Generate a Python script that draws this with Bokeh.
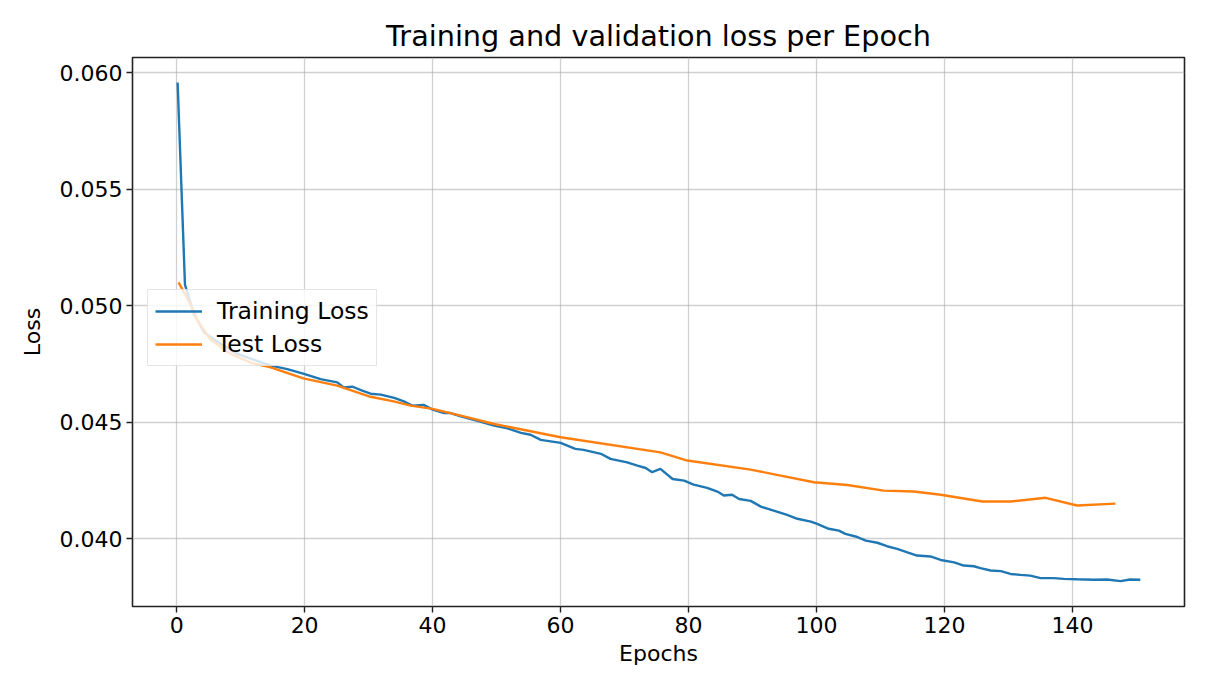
from bokeh.plotting import figure
from bokeh.models import Range1d, FixedTicker, PrintfTickFormatter, Legend, LegendItem
from bokeh.embed import file_html
from bokeh.resources import INLINE

# Per-epoch loss history
train_epochs = [0.15, 1.3, 2.7, 4.3, 6.9, 9.5, 14.7, 17.3, 19.9, 22.5, 25.1, 26.1, 27.5, 29.0,
                30.3, 31.9, 34.0, 35.5, 36.8, 38.6, 40.0, 41.8, 42.8, 44.4, 47.0, 49.6, 51.7,
                53.8, 55.3, 56.9, 60.0, 62.3, 63.6, 66.3, 67.8, 70.4, 72.0, 73.3, 74.3, 75.6,
                77.5, 79.3, 80.8, 82.9, 84.5, 85.5, 86.8, 87.9, 89.7, 91.3, 93.3, 95.4, 97.0,
                99.1, 100.1, 101.9, 103.5, 104.5, 106.1, 107.7, 109.5, 111.0, 112.6, 114.2,
                115.7, 117.8, 119.4, 121.5, 123.0, 124.6, 125.6, 127.2, 128.8, 130.3, 131.9,
                133.4, 135.0, 137.1, 138.6, 140.7, 143.3, 145.4, 147.5, 149.0, 150.6]
train_loss = [0.05959, 0.05090, 0.04964, 0.04885, 0.04836, 0.04793, 0.04743, 0.04728, 0.04707,
              0.04685, 0.04671, 0.04649, 0.04652, 0.04635, 0.04622, 0.04618, 0.04604, 0.04589,
              0.04571, 0.04574, 0.04554, 0.04539, 0.04539, 0.04525, 0.04506, 0.04485, 0.04473,
              0.04454, 0.04446, 0.04424, 0.04411, 0.04385, 0.04381, 0.04364, 0.04342, 0.04327,
              0.04313, 0.04303, 0.04285, 0.04299, 0.04256, 0.04249, 0.04232, 0.04218, 0.04202,
              0.04185, 0.04188, 0.04170, 0.04162, 0.04137, 0.04120, 0.04102, 0.04085, 0.04073,
              0.04063, 0.04042, 0.04034, 0.04020, 0.04009, 0.03991, 0.03982, 0.03967, 0.03956,
              0.03941, 0.03927, 0.03923, 0.03908, 0.03898, 0.03884, 0.03881, 0.03873, 0.03863,
              0.03860, 0.03848, 0.03844, 0.03841, 0.03830, 0.03830, 0.03827, 0.03825, 0.03823,
              0.03824, 0.03817, 0.03824, 0.03823]

test_epochs = [0.3, 2.0, 3.3, 5.3, 8.0, 11.6, 14.7, 19.8, 25.1, 30.3, 33.9, 36.6, 40.0, 44.4,
               49.6, 52.2, 60.0, 75.6, 79.8, 89.7, 99.6, 104.8, 110.5, 115.2, 119.4, 125.9,
               130.3, 135.8, 140.7, 146.7]
test_loss = [0.05100, 0.05015, 0.04935, 0.04855, 0.04800, 0.04755, 0.04735, 0.04688, 0.04657,
             0.04609, 0.04589, 0.04571, 0.04557, 0.04528, 0.04492, 0.04478, 0.04435, 0.04370,
             0.04335, 0.04296, 0.04242, 0.04230, 0.04206, 0.04202, 0.04188, 0.04159, 0.04159,
             0.04175, 0.04142, 0.04150]

x_ticks = [0, 20, 40, 60, 80, 100, 120, 140]
y_ticks = [0.040, 0.045, 0.050, 0.055, 0.060]

FONT = "DejaVu Sans"

p = figure(width=1211, height=679, output_backend="svg", toolbar_location=None,
           x_range=Range1d(-6.9, 157.5), y_range=Range1d(0.037082, 0.060661),
           title="Training and validation loss per Epoch")
p.min_border_left = 132
p.min_border_right = 27
p.min_border_top = 57
p.min_border_bottom = 73

p.title.align = "center"
p.title.text_font = FONT
p.title.text_font_size = "28.7px"
p.title.text_font_style = "normal"
p.title.text_color = "#000000"

p.outline_line_color = "#222222"
p.outline_line_width = 1.6

for ax in (p.xaxis[0], p.yaxis[0]):
    ax.axis_line_color = None
    ax.major_tick_line_color = "#222222"
    ax.major_tick_line_width = 1.4
    ax.major_tick_out = 6
    ax.major_tick_in = 0
    ax.minor_tick_line_color = None
    ax.major_label_text_font = FONT
    ax.major_label_text_font_size = "22px"
    ax.major_label_text_color = "#000000"
    ax.axis_label_text_font = FONT
    ax.axis_label_text_font_size = "22px"
    ax.axis_label_text_font_style = "normal"
    ax.axis_label_text_color = "#000000"
    ax.major_label_standoff = 4

p.xaxis.ticker = FixedTicker(ticks=x_ticks)
p.yaxis.ticker = FixedTicker(ticks=y_ticks)
p.yaxis.formatter = PrintfTickFormatter(format="%.3f")
p.xaxis.axis_label = "Epochs"
p.yaxis.axis_label = "Loss"
p.xaxis.axis_label_standoff = 5
p.yaxis.axis_label_standoff = 12

p.grid.grid_line_color = "#b0b0b0"
p.grid.grid_line_alpha = 0.6
p.grid.grid_line_width = 1.3

train = p.line(train_epochs, train_loss, line_color="#1f77b4", line_width=2.4)
test = p.line(test_epochs, test_loss, line_color="#ff7f0e", line_width=2.4)

legend = Legend(items=[LegendItem(label="Training Loss", renderers=[train]),
                       LegendItem(label="Test Loss", renderers=[test])],
                location=(15, 240))
legend.label_text_font = FONT
legend.label_text_font_size = "23.5px"
legend.label_text_color = "#000000"
legend.glyph_width = 47
legend.glyph_height = 26
legend.label_height = 26
legend.spacing = 5
legend.padding = 7
legend.margin = 0
legend.label_standoff = 15
legend.border_line_color = "#cccccc"
legend.border_line_width = 1.2
legend.background_fill_color = "white"
legend.background_fill_alpha = 0.8
p.add_layout(legend, "center")

open("out.html", "w").write(file_html(p, INLINE))
